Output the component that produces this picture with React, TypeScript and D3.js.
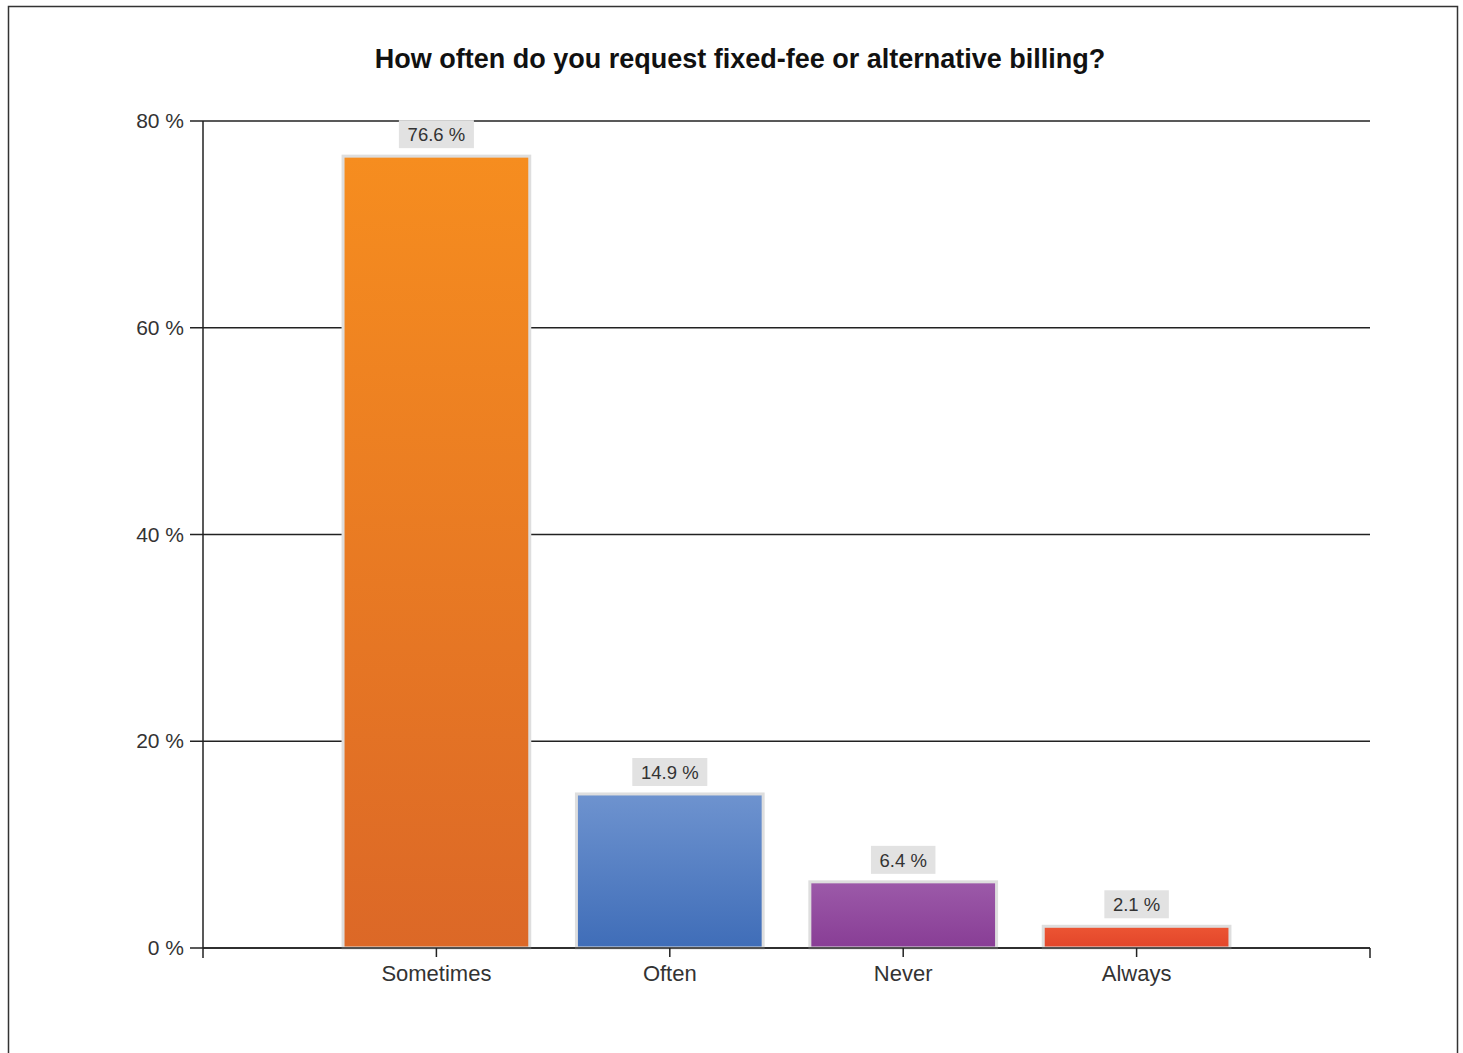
import React from "react";
import * as d3 from "d3";

const categories = ["Sometimes", "Often", "Never", "Always"];
const values = [76.6, 14.9, 6.4, 2.1];
const yTicks = [0, 20, 40, 60, 80];
const title = "How often do you request fixed-fee or alternative billing?";
const gradTop = ["#f68d1f", "#6e93cf", "#9c5aa9", "#ec5533"];
const gradBottom = ["#dc6827", "#3f6db8", "#883d95", "#e2452a"];

export default function App() {
  const W = 1463, H = 1053;
  const left = 203, right = 1370, top = 121, bottom = 948;
  const y = d3.scaleLinear().domain([0, 80]).range([bottom, top]);
  const xPos = d3.scaleLinear().domain([0, categories.length + 1]).range([left, right]);
  const step = xPos(1) - xPos(0);
  const barW = step * 0.8;
  const font = "'Liberation Sans', Arial, sans-serif";
  return (
    <svg width={W} height={H} style={{ position: "absolute", left: 0, top: 0 }}>
      <defs>
        {categories.map((c, i) => (
          <linearGradient key={c} id={`g${i}`} x1="0" y1="0" x2="0" y2="1">
            <stop offset="0%" stopColor={gradTop[i]} />
            <stop offset="100%" stopColor={gradBottom[i]} />
          </linearGradient>
        ))}
      </defs>
      <rect x={0} y={0} width={W} height={H} fill="#fff" />
      <rect x={8.5} y={6.5} width={1449} height={1060} fill="#fff" stroke="#333" strokeWidth={1.5} />
      <text x={740} y={68} textAnchor="middle" fontFamily={font} fontWeight="bold" fontSize={27} fill="#111">
        {title}
      </text>
      {yTicks.map((t) => (
        <g key={t}>
          <line x1={190} x2={right} y1={y(t)} y2={y(t)} stroke="#222" strokeWidth={1.5} />
          <text x={184} y={y(t) + 7} textAnchor="end" fontFamily={font} fontSize={21} fill="#333">
            {t} %
          </text>
        </g>
      ))}
      <line x1={left} x2={left} y1={top} y2={bottom + 10} stroke="#222" strokeWidth={1.5} />
      <line x1={right} x2={right} y1={bottom} y2={bottom + 10} stroke="#222" strokeWidth={1.5} />
      {categories.map((c, i) => {
        const cx = xPos(i + 1);
        const v = values[i];
        const yt = y(v);
        const label = `${v} %`;
        const boxW = label.length * 10.5 + 12;
        return (
          <g key={c}>
            <rect
              x={cx - barW / 2}
              y={yt}
              width={barW}
              height={bottom - yt}
              fill={`url(#g${i})`}
              stroke="#dedede"
              strokeWidth={3}
            />
            <rect x={cx - boxW / 2} y={yt - 36} width={boxW} height={28} fill="#e2e2e2" />
            <text x={cx} y={yt - 15} textAnchor="middle" fontFamily={font} fontSize={18.5} fill="#333">
              {label}
            </text>
            <line x1={cx} x2={cx} y1={bottom} y2={bottom + 9} stroke="#222" strokeWidth={1.5} />
            <text x={cx} y={bottom + 33} textAnchor="middle" fontFamily={font} fontSize={22} fill="#333">
              {c}
            </text>
          </g>
        );
      })}
      <line x1={left} x2={right} y1={bottom} y2={bottom} stroke="#222" strokeWidth={1.5} />
    </svg>
  );
}
